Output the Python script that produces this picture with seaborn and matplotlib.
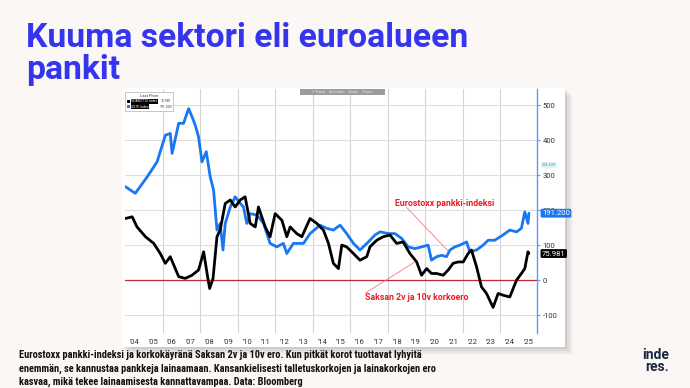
import matplotlib
matplotlib.use("Agg")
import matplotlib.pyplot as plt
import matplotlib.transforms as mtransforms
from matplotlib.patches import Rectangle
import pandas as pd
import seaborn as sns

sns.set_theme(style="white")
plt.rcParams['font.family'] = ['Roboto', 'DejaVu Sans']

# ---------------- data ----------------
caption_lines = [
    "Eurostoxx pankki-indeksi ja korkokäyränä Saksan 2v ja 10v ero. Kun pitkät korot tuottavat lyhyitä",
    "enemmän, se kannustaa pankkeja lainaamaan. Kansankielisesti talletuskorkojen ja lainakorkojen ero",
    "kasvaa, mikä tekee lainaamisesta kannattavampaa. Data: Bloomberg",
]
bank_label = "Eurostoxx pankki-indeksi"
spread_label = "Saksan 2v ja 10v korkoero"

bank_years = [2004.02, 2004.55, 2005.18, 2005.71, 2006.15, 2006.41, 2006.51, 2006.86, 2007.12,
              2007.39, 2007.57, 2007.74, 2007.92, 2008.10, 2008.33, 2008.54, 2008.72, 2008.90,
              2009.07, 2009.22, 2009.34, 2009.61, 2009.87, 2010.14, 2010.31, 2010.49, 2010.67,
              2011.03, 2011.38, 2011.73, 2012.09, 2012.44, 2012.62, 2012.97, 2013.51, 2013.86,
              2014.39, 2014.75, 2015.10, 2015.46, 2015.81, 2016.17, 2016.52, 2016.96, 2017.32,
              2017.59, 2018.03, 2018.38, 2018.74, 2019.09, 2019.45, 2019.80, 2020.15, 2020.33,
              2020.60, 2020.87, 2021.13, 2021.31, 2021.57, 2021.84, 2022.20, 2022.37, 2022.73,
              2023.08, 2023.35, 2023.70, 2024.14, 2024.50, 2024.86, 2025.12, 2025.30, 2025.47,
              2025.52]
bank_values = [267, 248, 295, 338, 414, 419, 362, 448, 448,
               490, 467, 443, 409, 338, 367, 295, 257, 143,
               162, 86, 162, 209, 238, 219, 209, 162, 190,
               186, 162, 105, 95, 105, 76, 105, 105, 133,
               157, 148, 143, 157, 133, 105, 86, 109, 129,
               138, 133, 133, 119, 95, 90, 95, 100, 57,
               67, 71, 67, 86, 95, 100, 109, 81, 86,
               100, 114, 114, 129, 143, 138, 148, 195, 162,
               191.2]

spread_years = [2004.02, 2004.38, 2004.64, 2005.09, 2005.53, 2005.88, 2006.15, 2006.41, 2006.86,
                2007.21, 2007.57, 2007.92, 2008.19, 2008.40, 2008.51, 2008.69, 2008.90, 2009.07,
                2009.34, 2009.61, 2009.87, 2010.14, 2010.40, 2010.67, 2010.94, 2011.11, 2011.47,
                2011.73, 2012.00, 2012.36, 2012.62, 2012.80, 2013.15, 2013.42, 2013.86, 2014.22,
                2014.57, 2014.84, 2015.10, 2015.37, 2015.55, 2015.81, 2016.17, 2016.52, 2016.88,
                2017.05, 2017.41, 2017.76, 2018.12, 2018.47, 2018.82, 2019.18, 2019.54, 2019.80,
                2020.07, 2020.33, 2020.60, 2020.95, 2021.22, 2021.48, 2021.75, 2022.02, 2022.28,
                2022.46, 2022.73, 2022.99, 2023.26, 2023.61, 2023.88, 2024.14, 2024.50, 2024.86,
                2025.12, 2025.30, 2025.47, 2025.52]
spread_values = [176, 181, 152, 124, 105, 76, 48, 67, 10,
                 5, 14, 29, 81, 10, -24, 5, 124, 143,
                 219, 229, 209, 229, 238, 162, 152, 209, 152,
                 124, 190, 171, 124, 152, 133, 124, 176, 162,
                 143, 105, 48, 33, 100, 95, 76, 57, 67,
                 95, 114, 124, 129, 105, 109, 76, 52, 14,
                 33, 19, 19, 14, 29, 48, 52, 52, 76,
                 86, 38, -19, -38, -78, -38, -43, -48, 0,
                 19, 33, 81, 75.981]

y_ticks = [-100, 0, 100, 200, 300, 400, 500]
x_tick_labels = ["'04", "'05", "'06", "'07", "'08", "'09", "'10", "'11", "'12", "'13", "'14",
                 "'15", "'16", "'17", "'18", "'19", "'20", "'21", "'22", "'23", "'24", "'25"]
x_tick_years = [2004, 2005, 2006, 2007, 2008, 2009, 2010, 2011, 2012, 2013, 2014,
                2015, 2016, 2017, 2018, 2019, 2020, 2021, 2022, 2023, 2024, 2025]
grid_years = [2006, 2008, 2010, 2012, 2014, 2016, 2018, 2020, 2022, 2024]
last_bank = "191.200"
last_spread = "75.981"

bank_df = pd.DataFrame({"year": bank_years, "value": bank_values})
spread_df = pd.DataFrame({"year": spread_years, "value": spread_values})

# ---------------- figure ----------------
W, H = 690, 388
BG = "#faf7f5"
fig = plt.figure(figsize=(W / 100, H / 100), dpi=100, facecolor=BG)


def fx(px):
    return px / W


def fy(py):
    return 1 - py / H


# soft shadow + white panel
for i, a in enumerate([0.05, 0.07, 0.09, 0.12]):
    off = 8 - 2 * i
    fig.patches.append(Rectangle((fx(122 + off), fy(347 + off)), fx(443), (259) / H,
                                 transform=fig.transFigure, facecolor="#6a6a6a",
                                 alpha=a, edgecolor="none", zorder=-3))
fig.patches.append(Rectangle((fx(122), fy(347)), fx(443), 259 / H, transform=fig.transFigure,
                             facecolor="white", edgecolor="none", zorder=-2))

ax = fig.add_axes([fx(125), fy(333), fx(412), 244 / H])
ax.set_facecolor("white")

BLUE = "#1877f2"
sns.lineplot(data=bank_df, x="year", y="value", ax=ax, color=BLUE, lw=2.0,
             estimator=None, sort=False, zorder=3)
sns.lineplot(data=spread_df, x="year", y="value", ax=ax, color="black", lw=2.0,
             estimator=None, sort=False, zorder=4)

ax.set_xlim(2004.0, 2025.95)
ax.set_ylim(-151, 546)
ax.set_xlabel("")
ax.set_ylabel("")

for gx in grid_years:
    ax.axvline(gx, color="#d4d4d4", lw=0.8, zorder=1)
for gy in y_ticks:
    ax.axhline(gy, color="#dedede", lw=0.8, zorder=1)
ax.axhline(0, color="#c3283a", lw=0.9, zorder=2)

for s in ["top", "left", "bottom"]:
    ax.spines[s].set_visible(False)
ax.spines["right"].set_color("#5a9cf0")
ax.spines["right"].set_linewidth(1.0)

ax.yaxis.tick_right()
ax.set_yticks(y_ticks)
ax.set_yticklabels([str(v) for v in y_ticks])
ax.tick_params(axis="y", which="both", right=True, left=False, length=2.5, width=0.8,
               color="#5a9cf0", labelsize=5.5, labelcolor="#333333", pad=1.5)
ax.set_xticks([y + 0.5 for y in x_tick_years])
ax.set_xticklabels(x_tick_labels)
ax.tick_params(axis="x", length=0, labelsize=5.5, labelcolor="#333333", pad=4.5)

# annotations
RED = "#ec1c24"
ax.text(2021.04, 220, bank_label, color=RED, fontsize=6.3, fontweight="bold",
        ha="center", va="center", zorder=6)
ax.plot([2019.0, 2021.2], [208, 84], color="#f27c7c", lw=0.6, zorder=5)
ax.text(2019.52, -51, spread_label, color=RED, fontsize=6.3, fontweight="bold",
        ha="center", va="center", zorder=6)
ax.plot([2016.8, 2019.45], [-37, 52], color="#f27c7c", lw=0.6, zorder=5)

# last value tags on right axis
tr = mtransforms.blended_transform_factory(ax.transAxes, ax.transData)
ax.text(1.012, 191.2, last_bank, transform=tr, color="white", fontsize=5.6, va="center",
        ha="left", zorder=7, clip_on=False,
        bbox=dict(boxstyle="round,pad=0.18", facecolor=BLUE, edgecolor="none"))
ax.text(1.012, 75.981, last_spread, transform=tr, color="white", fontsize=5.6, va="center",
        ha="left", zorder=7, clip_on=False,
        bbox=dict(boxstyle="round,pad=0.18", facecolor="black", edgecolor="none"))
ax.text(1.012, 329, "328.409", transform=tr, color="#5a8fb0", fontsize=2.8, va="center",
        ha="left", zorder=7, clip_on=False,
        bbox=dict(boxstyle="square,pad=0.15", facecolor="#dff3fb", edgecolor="none"))

# tiny Bloomberg legend box
fig.patches.append(Rectangle((fx(125), fy(111)), fx(48), 19 / H, transform=fig.transFigure,
                             facecolor="white", edgecolor="#b0b0b0", lw=0.5, zorder=8))
fig.text(fx(149), fy(96), "Last Price", fontsize=3.0, ha="center", va="center",
         color="#333333", zorder=9)
fig.patches.append(Rectangle((fx(127), fy(103)), fx(3), 3 / H, transform=fig.transFigure,
                             facecolor="black", edgecolor="none", zorder=9))
fig.text(fx(131), fy(101.5), "GDBR2T10 Index", fontsize=2.5, ha="left", va="center",
         color="white", zorder=9,
         bbox=dict(boxstyle="square,pad=0.1", facecolor="black", edgecolor="none"))
fig.text(fx(172), fy(101.5), last_spread, fontsize=2.5, ha="right", va="center",
         color="#333333", zorder=9)
fig.patches.append(Rectangle((fx(127), fy(108)), fx(3), 3 / H, transform=fig.transFigure,
                             facecolor=BLUE, edgecolor="none", zorder=9))
fig.text(fx(131), fy(106.5), "SX7E Index", fontsize=2.5, ha="left", va="center",
         color="white", zorder=9,
         bbox=dict(boxstyle="square,pad=0.1", facecolor="black", edgecolor="none"))
fig.text(fx(172), fy(106.5), last_bank, fontsize=2.5, ha="right", va="center",
         color="#333333", zorder=9)

# tiny toolbar
fig.patches.append(Rectangle((fx(300), fy(95)), fx(85), 6 / H, transform=fig.transFigure,
                             facecolor="#9c9c9c", edgecolor="none", zorder=8))
fig.text(fx(342), fy(92), "+ Track    Annotate    News    Zoom", fontsize=2.8,
         ha="center", va="center", color="#e8e8e8", zorder=9)

# title
TITLE = "#3535ee"
fig.text(fx(26), fy(47), "Kuuma sektori eli euroalueen", fontsize=24.2, fontweight="bold",
         color=TITLE, ha="left", va="baseline")
fig.text(fx(26), fy(79), "pankit", fontsize=24.2, fontweight="bold",
         color=TITLE, ha="left", va="baseline")

# caption
cap_family = ["Liberation Sans Narrow", "Roboto Condensed", "Roboto", "DejaVu Sans"]
for i, line in enumerate(caption_lines):
    fig.text(fx(19), fy(358.5 + 13.2 * i), line, fontsize=7.5, fontweight="bold",
             family=cap_family, color="#111111", ha="left", va="baseline")

# logo
fig.text(fx(669), fy(371), "inde\nres.", fontsize=10, fontweight="bold", color="#1b2541",
         ha="right", va="baseline", multialignment="right", linespacing=0.78)

fig.savefig("out.png", dpi=100, facecolor=BG)
